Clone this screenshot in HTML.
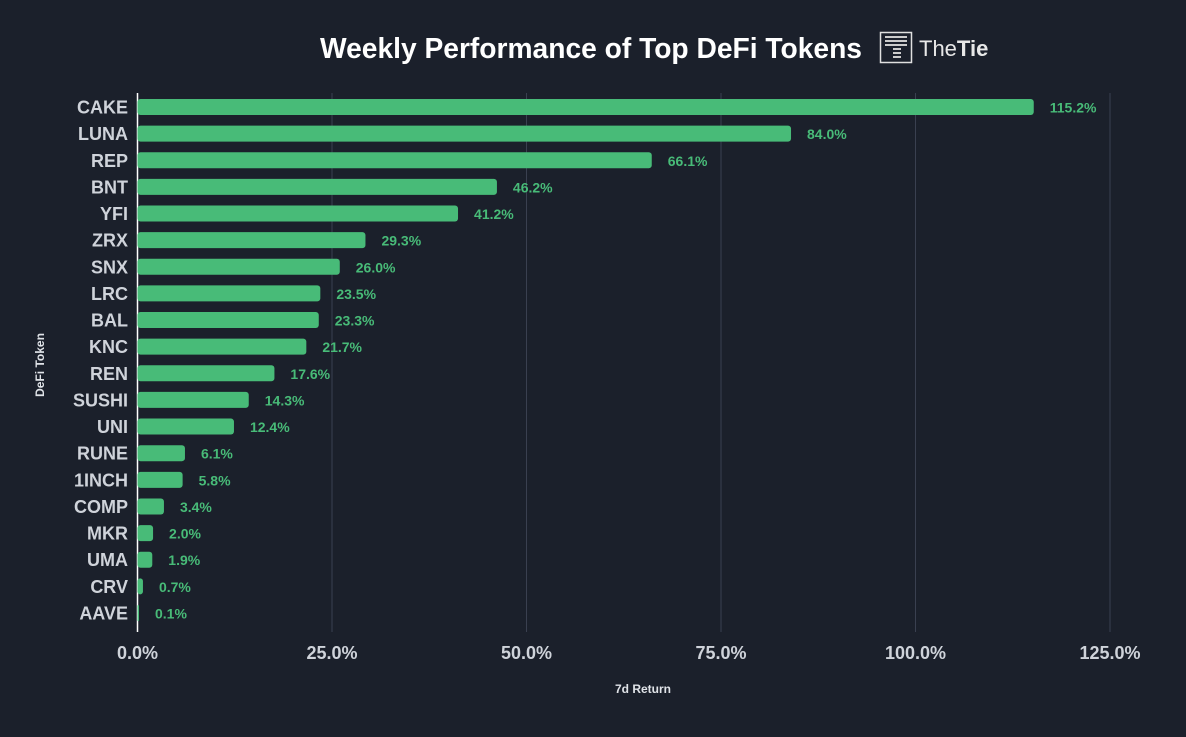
<!DOCTYPE html>
<html><head><meta charset="utf-8"><style>
body{margin:0;background:#1b202b;width:1186px;height:732px;overflow:hidden;font-family:"Liberation Sans",sans-serif}
</style></head><body>
<svg width="1186" height="732" id="c" xmlns="http://www.w3.org/2000/svg">
<rect width="1186" height="732" fill="#1b202b"/>
<text x="862" y="58" text-anchor="end" font-size="28.5" font-weight="bold" fill="#ffffff" textLength="542" lengthAdjust="spacingAndGlyphs">Weekly Performance of Top DeFi Tokens</text>
<g>
<rect x="880.5" y="32.5" width="31" height="30" fill="none" stroke="#e0e0e0" stroke-width="1.5"/>
<rect x="885" y="36" width="22" height="2" fill="#ccc"/><rect x="885" y="40" width="22" height="2" fill="#ccc"/><rect x="885" y="44" width="22" height="2" fill="#ccc"/>
<rect x="893" y="48" width="8" height="2" fill="#ccc"/><rect x="893" y="52" width="8" height="2" fill="#ccc"/><rect x="893" y="56" width="8" height="2" fill="#ccc"/>
<text x="919" y="56" font-size="22" fill="#e8e8e8">The<tspan font-weight="bold">Tie</tspan></text>
</g>
<g id="grid"></g><g id="bars"></g>
<text transform="translate(44,365) rotate(-90)" text-anchor="middle" font-size="12" font-weight="bold" fill="#e0e3e8">DeFi Token</text>
<text x="643" y="693" text-anchor="middle" font-size="12" font-weight="bold" fill="#e0e3e8">7d Return</text>
</svg>
<script>
const tokens=["CAKE","LUNA","REP","BNT","YFI","ZRX","SNX","LRC","BAL","KNC","REN","SUSHI","UNI","RUNE","1INCH","COMP","MKR","UMA","CRV","AAVE"];
const returns=[115.2,84.0,66.1,46.2,41.2,29.3,26.0,23.5,23.3,21.7,17.6,14.3,12.4,6.1,5.8,3.4,2.0,1.9,0.7,0.1];
const ticks=[0,25,50,75,100,125];
const NS="http://www.w3.org/2000/svg";
const x0=137.5,pxPer=(1110-137.5)/125;
const X=v=>x0+v*pxPer;
const Y=i=>107+i*26.63;
function mk(t,a,p){const e=document.createElementNS(NS,t);for(const k in a)e.setAttribute(k,a[k]);p.appendChild(e);return e;}
const g=document.getElementById('grid'),b=document.getElementById('bars');
ticks.forEach(t=>{
 if(t>0){const l=mk('line',{x1:X(t),x2:X(t),y1:93,y2:632,stroke:'#3a4050','stroke-width':1},g);
 
 }
 const tx=mk('text',{x:X(t),y:659,'text-anchor':'middle','font-size':18,'font-weight':'bold',fill:'#cfd3da'},g);
 
 
 tx.textContent=t.toFixed(1)+'%';
});
tokens.forEach((n,i)=>{
 const y=Y(i),w=Math.max(X(returns[i])-x0,1.5);
 const r=mk('rect',{x:x0,y:y-8,width:w,height:16,rx:Math.min(3,w/2),fill:'#48bb78'},b);
 
 
 const l=mk('text',{x:128,y:y+6.5,'text-anchor':'end','font-size':18,'font-weight':'bold',fill:'#cfd3da'},b);
 
 
 l.textContent=n;
 const v=mk('text',{x:x0+w+16,y:y+5.5,'font-size':14,'font-weight':'bold',fill:'#48bb78'},b);
 
 
 v.textContent=returns[i].toFixed(1)+'%';
});
const z=mk('line',{x1:x0,x2:x0,y1:93,y2:632,stroke:'#ffffff','stroke-width':1.5},g);


</script>
</body></html>
